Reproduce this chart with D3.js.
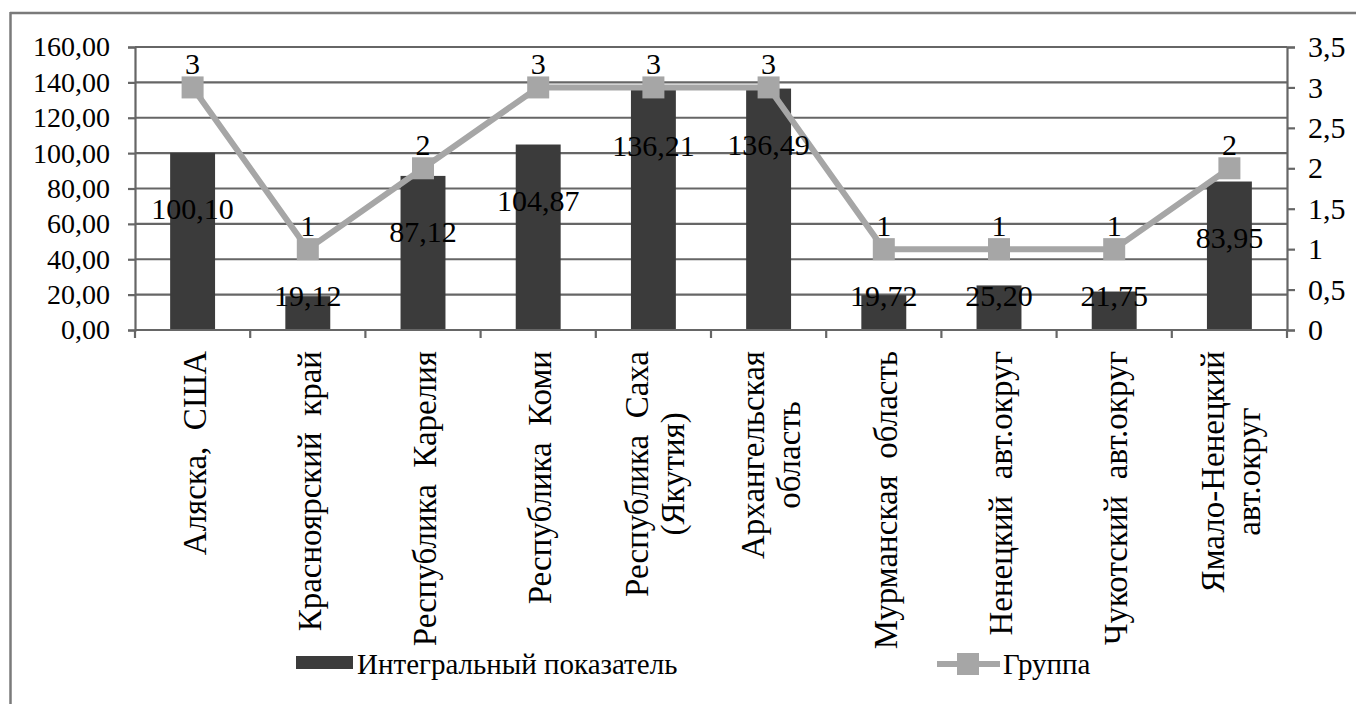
<!DOCTYPE html>
<html><head><meta charset="utf-8">
<script src="https://cdn.jsdelivr.net/npm/d3@7"></script>
<style>
html,body{margin:0;padding:0;background:#fff;}
svg{display:block;}
</style></head>
<body>
<svg id="chart" width="1356" height="704"></svg>
<script>
const categories = [
  ["Аляска,  США"],
  ["Красноярский  край"],
  ["Республика  Карелия"],
  ["Республика  Коми"],
  ["Республика  Саха", "(Якутия)"],
  ["Архангельская", "область"],
  ["Мурманская  область"],
  ["Ненецкий  авт.округ"],
  ["Чукотский  авт.округ"],
  ["Ямало-Ненецкий", "авт.округ"]
];
const integralValues = [100.10, 19.12, 87.12, 104.87, 136.21, 136.49, 19.72, 25.20, 21.75, 83.95];
const groupValues = [3, 1, 2, 3, 3, 3, 1, 1, 1, 2];
const leftTicks = [0, 20, 40, 60, 80, 100, 120, 140, 160];
const rightTicks = [0, 0.5, 1, 1.5, 2, 2.5, 3, 3.5];
const seriesNames = ["Интегральный показатель", "Группа"];

const FONT = "\"Liberation Serif\", serif";
const svg = d3.select("#chart");
const W = 1356, H = 704;
const plot = {left: 135, right: 1287, top: 47, bottom: 330};
const fmt2 = d => d.toFixed(2).replace(".", ",");
const fmtR = d => String(d).replace(".", ",");
const idx = d3.range(categories.length);

const x = d3.scaleBand().domain(idx).range([plot.left, plot.right]).paddingInner(0.61).paddingOuter(0.305);
const step = x.step();
const y = d3.scaleLinear().domain([0, 160]).range([plot.bottom, plot.top]);
const y2 = d3.scaleLinear().domain([0, 3.5]).range([plot.bottom, plot.top]);

const gridColor = "#666";
const barColor = "#3b3b3b";
const lineColor = "#a6a6a6";

function T(sel, size) { return sel.style("font-family", FONT).style("font-size", size + "px").style("fill", "#000"); }

// frame
svg.append("line").attr("x1", 10.5).attr("x2", 10.5).attr("y1", 12).attr("y2", H).attr("stroke", "#7a7a7a").attr("stroke-width", 2.5);
svg.append("line").attr("x1", 10).attr("x2", W).attr("y1", 13).attr("y2", 13).attr("stroke", "#7a7a7a").attr("stroke-width", 2.5);

// gridlines
svg.append("g").selectAll("line").data(leftTicks).join("line")
  .attr("x1", plot.left).attr("x2", plot.right)
  .attr("y1", d => y(d)).attr("y2", d => y(d))
  .attr("stroke", gridColor).attr("stroke-width", 2.2);

// left axis
const gL = svg.append("g").attr("transform", `translate(${plot.left},0)`)
  .call(d3.axisLeft(y).tickValues(leftTicks).tickFormat(fmt2).tickSize(7).tickPadding(18));
gL.select(".domain").attr("stroke", gridColor).attr("stroke-width", 2.2);
gL.selectAll(".tick line").attr("stroke", gridColor).attr("stroke-width", 2.2);
T(gL.selectAll(".tick text"), 28);

// right axis
const gR = svg.append("g").attr("transform", `translate(${plot.right},0)`)
  .call(d3.axisRight(y2).tickValues(rightTicks).tickFormat(fmtR).tickSize(8).tickPadding(13));
gR.select(".domain").attr("stroke", gridColor).attr("stroke-width", 2.2);
gR.selectAll(".tick line").attr("stroke", gridColor).attr("stroke-width", 2.2);
T(gR.selectAll(".tick text"), 30);

// bottom axis (category boundaries ticks)
const boundaries = d3.range(categories.length + 1);
svg.append("g").selectAll("line").data(boundaries).join("line")
  .attr("x1", d => plot.left + d * step).attr("x2", d => plot.left + d * step)
  .attr("y1", plot.bottom).attr("y2", plot.bottom + 8)
  .attr("stroke", gridColor).attr("stroke-width", 2.2);

// bars
svg.append("g").selectAll("rect").data(integralValues).join("rect")
  .attr("x", (d, i) => x(i)).attr("width", x.bandwidth())
  .attr("y", d => y(d)).attr("height", d => y(0) - y(d))
  .attr("fill", barColor);

// x-axis baseline on top of bars
svg.append("line").attr("x1", plot.left).attr("x2", plot.right).attr("y1", plot.bottom).attr("y2", plot.bottom)
  .attr("stroke", gridColor).attr("stroke-width", 2.2);

// line
const cx = i => x(i) + x.bandwidth() / 2;
svg.append("path").datum(groupValues)
  .attr("d", d3.line().x((d, i) => cx(i)).y(d => y2(d)))
  .attr("fill", "none").attr("stroke", lineColor).attr("stroke-width", 6).attr("stroke-linejoin", "round");
svg.append("g").selectAll("rect").data(groupValues).join("rect")
  .attr("x", (d, i) => cx(i) - 11).attr("y", d => y2(d) - 11)
  .attr("width", 22).attr("height", 22).attr("fill", lineColor);

// bar value labels
T(svg.append("g").selectAll("text").data(integralValues).join("text")
  .attr("x", (d, i) => cx(i))
  .attr("y", d => Math.min(y(d) + 56, y(0) - 35))
  .attr("text-anchor", "middle").attr("dominant-baseline", "central")
  .text(fmt2), 30);

// group labels
T(svg.append("g").selectAll("text").data(groupValues).join("text")
  .attr("x", (d, i) => cx(i)).attr("y", d => y2(d) - 24)
  .attr("text-anchor", "middle").attr("dominant-baseline", "central")
  .text(d => d), 30);

// category labels (rotated)
const labelTop = 351, lineGap = 36;
const catG = svg.append("g").selectAll("g").data(categories).join("g")
  .attr("transform", (d, i) => `translate(${cx(i)},${labelTop}) rotate(-90)`);
catG.each(function(lines) {
  const g = d3.select(this);
  const n = lines.length;
  const texts = lines.map((ln, k) => T(g.append("text"), 33)
      .attr("y", (k - (n - 1) / 2) * lineGap + 2)
      .attr("text-anchor", "middle")
      .attr("dominant-baseline", "central")
      .style("white-space", "pre")
      .text(ln));
  const maxLen = d3.max(texts, t => t.node().getComputedTextLength());
  texts.forEach(t => t.attr("x", -maxLen / 2));
});

// legend
const lg = svg.append("g");
lg.append("rect").attr("x", 296).attr("y", 656).attr("width", 57).attr("height", 13).attr("fill", barColor);
T(lg.append("text"), 29).attr("x", 357).attr("y", 664).attr("dominant-baseline", "central").text(seriesNames[0]);
lg.append("line").attr("x1", 937).attr("x2", 1000).attr("y1", 664).attr("y2", 664).attr("stroke", lineColor).attr("stroke-width", 6);
lg.append("rect").attr("x", 957).attr("y", 653).attr("width", 22).attr("height", 22).attr("fill", lineColor);
T(lg.append("text"), 29).attr("x", 1003).attr("y", 664).attr("dominant-baseline", "central").text(seriesNames[1]);
</script>
</body></html>
